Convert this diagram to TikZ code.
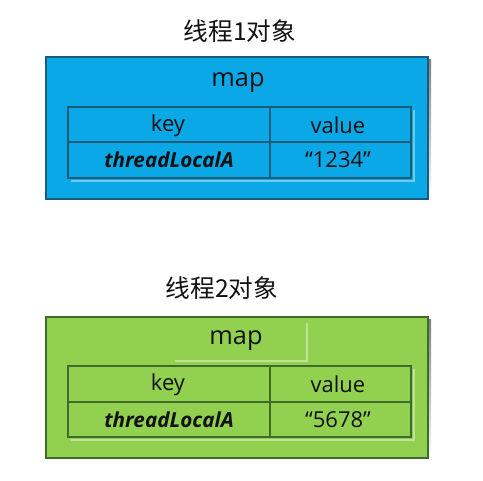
\documentclass[tikz,border=0pt]{standalone}
\usepackage{fontspec}
\setmainfont{Open Sans}
\newfontfamily\cjk{Noto Sans CJK SC}
\definecolor{bluefill}{HTML}{0AA8E6}
\definecolor{blueline}{HTML}{1D5C78}
\definecolor{greenfill}{HTML}{92D050}
\definecolor{greenline}{HTML}{3E6B2A}
\definecolor{txt}{HTML}{111111}
\definecolor{shade}{HTML}{F0F0F0}
\begin{document}
\begin{tikzpicture}[x=0.75pt,y=-0.75pt,
  title/.style={font=\cjk\fontsize{18.5}{22}\selectfont, text=txt, inner sep=0pt},
  maplabel/.style={font=\fontsize{19}{22}\selectfont, text=txt, inner sep=0pt},
  cell/.style={font=\fontsize{16.5}{19}\selectfont, text=txt, inner sep=0pt},
  keycell/.style={cell, font=\fontsize{15.5}{19}\selectfont\bfseries\itshape},
  outer/.style={line width=0.9pt},
  grid/.style={line width=0.8pt}]
\useasboundingbox (0,0) rectangle (483,480);
\fill[white] (0,0) rectangle (483,480);

% ---------- object 1 ----------
\node[title] (t1) at (240,31) {线程1对象};
\fill[shade] (48,59) rectangle (431,203);
\draw[outer, blueline, fill=bluefill] (46,57) rectangle (428,199);
\node[maplabel] (m1) at (238,83) {map};
\draw[white!40!bluefill, line width=1.2pt] (71,181) -- (414,181) -- (414,110);
\draw[grid, blueline] (68,107) rectangle (411,178);
\draw[grid, blueline] (68,142) -- (411,142);
\draw[grid, blueline] (270,107) -- (270,178);
\node[cell] (k1) at (168,126) {key};
\node[cell] (v1) at (338,125) {value};
\node[keycell] (a1) at (169,160) {threadLocalA};
\node[cell] (n1) at (338,160) {“1234”};

% ---------- object 2 ----------
\node[title] (t2) at (222,288) {线程2对象};
\fill[shade] (48,319) rectangle (431,462);
\draw[outer, greenline, fill=greenfill] (46,317) rectangle (428,458);
\draw[white!40!greenfill, line width=1.2pt] (175,361) -- (307,361) -- (307,323);
\node[maplabel] (m2) at (236,341) {map};
\draw[white!40!greenfill, line width=1.2pt] (71,440) -- (414,440) -- (414,369);
\draw[grid, greenline] (68,366) rectangle (411,437);
\draw[grid, greenline] (68,402) -- (411,402);
\draw[grid, greenline] (270,366) -- (270,437);
\node[cell] (k2) at (168,385) {key};
\node[cell] (v2) at (338,384) {value};
\node[keycell] (a2) at (169,420) {threadLocalA};
\node[cell] (n2) at (338,420) {“5678”};
\end{tikzpicture}
\end{document}
